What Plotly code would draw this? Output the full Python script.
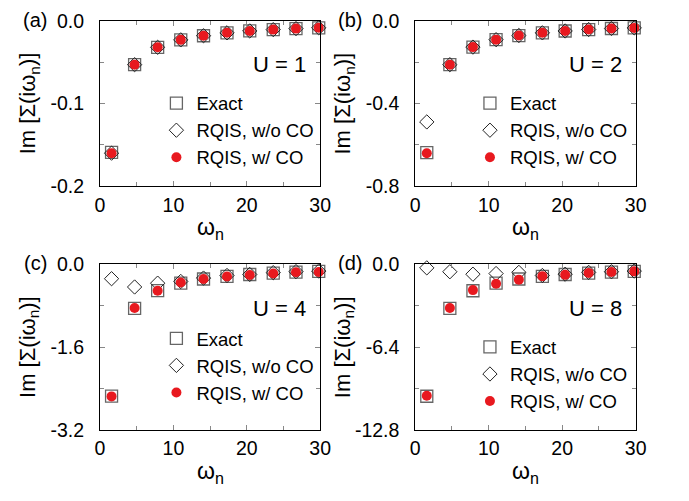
import plotly.graph_objects as go

omega = [1.57, 4.71, 7.85, 11.0, 14.1, 17.3, 20.4, 23.6, 26.7, 29.8]

# Panel (a) U = 1
a_exact = [-0.159, -0.053, -0.032, -0.023, -0.018, -0.0145, -0.0122, -0.0106, -0.0094, -0.0084]
a_wo = [-0.160, -0.053, -0.032, -0.023, -0.018, -0.0145, -0.0122, -0.0106, -0.0094, -0.0084]
a_w = [-0.160, -0.053, -0.032, -0.023, -0.018, -0.0145, -0.0122, -0.0106, -0.0094, -0.0084]

# Panel (b) U = 2
b_exact = [-0.637, -0.212, -0.127, -0.091, -0.071, -0.058, -0.049, -0.042, -0.037, -0.034]
b_wo = [-0.489, -0.212, -0.127, -0.091, -0.071, -0.058, -0.049, -0.042, -0.037, -0.034]
b_w = [-0.640, -0.212, -0.127, -0.091, -0.071, -0.058, -0.049, -0.042, -0.037, -0.034]

# Panel (c) U = 4
c_exact = [-2.546, -0.849, -0.509, -0.364, -0.283, -0.231, -0.196, -0.170, -0.150, -0.134]
c_wo = [-0.277, -0.437, -0.363, -0.330, -0.265, -0.215, -0.195, -0.160, -0.140, -0.130]
c_w = [-2.550, -0.843, -0.510, -0.350, -0.283, -0.234, -0.205, -0.178, -0.153, -0.148]

# Panel (d) U = 8
d_exact = [-10.19, -3.40, -2.04, -1.455, -1.13, -0.926, -0.784, -0.679, -0.599, -0.536]
d_wo = [-0.27, -0.57, -0.76, -0.71, -0.62, -0.86, -0.76, -0.62, -0.57, -0.52]
d_w = [-10.15, -3.37, -1.99, -1.50, -1.18, -0.91, -0.81, -0.66, -0.59, -0.54]

panel_labels = ["(a)", "(b)", "(c)", "(d)"]
u_labels = ["U = 1", "U = 2", "U = 4", "U = 8"]
series_names = ["Exact", "RQIS, w/o CO", "RQIS, w/ CO"]

y_ticks = [[0.0, -0.1, -0.2], [0.0, -0.4, -0.8], [0.0, -1.6, -3.2], [0.0, -6.4, -12.8]]
y_ticktext = [["0.0", "-0.1", "-0.2"], ["0.0", "-0.4", "-0.8"], ["0.0", "-1.6", "-3.2"], ["0.0", "-6.4", "-12.8"]]
x_ticks = [0, 10, 20, 30]

panels = [(a_exact, a_wo, a_w), (b_exact, b_wo, b_w), (c_exact, c_wo, c_w), (d_exact, d_wo, d_w)]

W, H = 689, 501
FONT = "Liberation Sans, Arial, Helvetica, sans-serif"

# pixel domains of the plot areas
x_dom_px = [(97.3, 322.7), (420.0, 645.7), (97.3, 322.7), (420.0, 645.7)]
y_dom_px = [(10.3, 183.3), (10.3, 183.3), (265.0, 438.3), (265.0, 438.3)]
legend_px = [(155, 77), (476, 77), (155, 323), (476, 332)]

fig = go.Figure()
layout = dict(
    width=W, height=H, margin=dict(l=0, r=0, t=0, b=0),
    paper_bgcolor="white", plot_bgcolor="white",
    font=dict(family=FONT, size=18, color="black"),
    showlegend=True,
)
annotations = []

for i, (ex, wo, w) in enumerate(panels):
    k = "" if i == 0 else str(i + 1)
    xa, ya = "x" + k, "y" + k
    lg = "legend" + k
    fig.add_trace(go.Scatter(x=omega, y=ex, mode="markers", name=series_names[0], xaxis=xa, yaxis=ya, legend=lg,
                             marker=dict(symbol="square-open", size=12, color="#666666", line=dict(width=1.3, color="#666666")),
                             cliponaxis=False))
    fig.add_trace(go.Scatter(x=omega, y=wo, mode="markers", name=series_names[1], xaxis=xa, yaxis=ya, legend=lg,
                             marker=dict(symbol="diamond-open", size=11, color="#222222", line=dict(width=1, color="#222222")),
                             cliponaxis=False))
    fig.add_trace(go.Scatter(x=omega, y=w, mode="markers", name=series_names[2], xaxis=xa, yaxis=ya, legend=lg,
                             marker=dict(symbol="circle", size=10, color="#e8191f", line=dict(width=0)),
                             cliponaxis=False))

    x0, x1 = x_dom_px[i]
    y0, y1 = y_dom_px[i]
    ymin = y_ticks[i][-1]
    layout["xaxis" + k] = dict(
        domain=[x0 / W, x1 / W], range=[0, 30], anchor=ya,
        tickvals=x_ticks, ticks="inside", ticklen=5, tickcolor="#888888", tickwidth=1,
        minor=dict(tickvals=[5, 15, 25], ticks="inside", ticklen=4, tickcolor="#888888"),
        showline=True, linecolor="black", linewidth=1, mirror="ticks",
        showgrid=False, zeroline=False, tickfont=dict(size=19.5, family=FONT),
        ticklabelstandoff=1,
    )
    layout["yaxis" + k] = dict(
        domain=[1 - y1 / H, 1 - y0 / H], range=[ymin, 0], anchor=xa,
        tickvals=y_ticks[i], ticktext=y_ticktext[i], ticks="inside", ticklen=5, tickcolor="#888888", tickwidth=1,
        minor=dict(tickvals=[y_ticks[i][1] / 2, (y_ticks[i][1] + y_ticks[i][2]) / 2], ticks="inside", ticklen=4, tickcolor="#888888"),
        showline=True, linecolor="black", linewidth=1, mirror="ticks",
        showgrid=False, zeroline=False, tickfont=dict(size=19.5, family=FONT),
        ticklabelstandoff=11,
    )
    lx, ly = legend_px[i]
    layout[lg] = dict(x=lx / W, y=1 - ly / H, xanchor="left", yanchor="top", xref="paper", yref="paper",
                      bgcolor="rgba(0,0,0,0)", borderwidth=0, font=dict(size=18.5, family=FONT),
                      itemclick=False, itemdoubleclick=False)

    # panel label
    annotations.append(dict(text=panel_labels[i], x=(x0 - 52) / W, y=1 - (y0 - 1) / H, xref="paper", yref="paper",
                            xanchor="right", yanchor="middle", showarrow=False, font=dict(size=20, family=FONT)))
    # U label
    annotations.append(dict(text=u_labels[i], x=(x1 - 12) / W, y=1 - (y0 + 46) / H, xref="paper", yref="paper",
                            xanchor="right", yanchor="middle", showarrow=False, font=dict(size=22, family=FONT)))
    # y-axis title
    annotations.append(dict(text="Im [Σ(iω<sub>n</sub>)]", x=(x0 - 73) / W, y=1 - ((y0 + y1) / 2) / H, xref="paper", yref="paper",
                            xanchor="center", yanchor="middle", textangle=-90, showarrow=False, font=dict(size=22, family=FONT)))
    # x-axis title
    annotations.append(dict(text="ω<sub>n</sub>", x=((x0 + x1) / 2) / W, y=1 - (y1 + 44) / H, xref="paper", yref="paper",
                            xanchor="center", yanchor="middle", showarrow=False, font=dict(size=23, family=FONT)))

layout["annotations"] = annotations
fig.update_layout(**layout)
fig.write_html("out.html")
